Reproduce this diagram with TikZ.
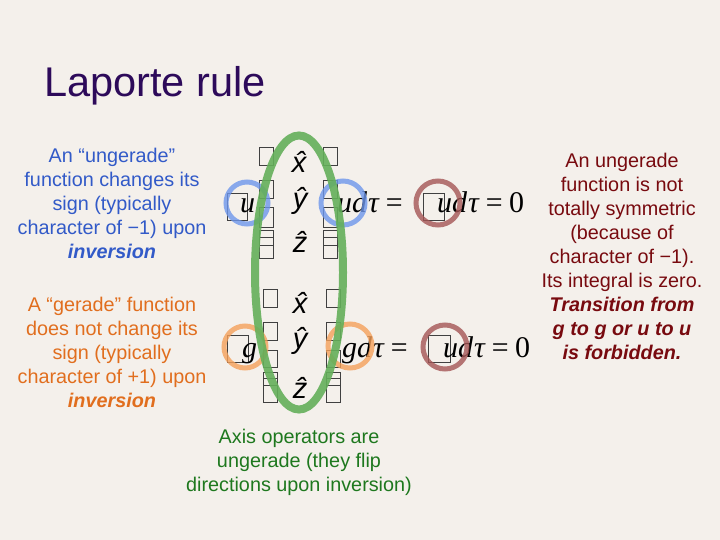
\documentclass[tikz,border=0pt]{standalone}
\usepackage{fontspec}
\setmainfont{Liberation Sans}
\newfontfamily\serifm{Liberation Serif}
\definecolor{bgc}{RGB}{244,240,235}
\definecolor{titlec}{RGB}{45,10,90}
\definecolor{bluet}{RGB}{50,90,200}
\definecolor{oranget}{RGB}{225,110,30}
\definecolor{redt}{RGB}{120,10,15}
\definecolor{greent}{RGB}{30,120,30}
\definecolor{bluec}{RGB}{110,150,235}
\definecolor{orangec}{RGB}{245,160,90}
\definecolor{redc}{RGB}{165,85,85}
\definecolor{greenc}{RGB}{100,175,90}
\begin{document}
\begin{tikzpicture}[x=1pt,y=-1pt,
  para/.style={anchor=north, align=center, inner sep=0pt, font=\fontsize{19.8}{24}\selectfont},
  mth/.style={anchor=base west, inner sep=0pt, font=\serifm\itshape\fontsize{30}{32}\selectfont},
  axis/.style={anchor=base, inner sep=0pt, font=\itshape\fontsize{29}{32}\selectfont},
  gbox/.style={draw=black!75, line width=0.6pt},
  ring/.style={line width=5pt, draw opacity=0.8}]
\fill[bgc] (0,0) rectangle (720,540);
\useasboundingbox (0,0) rectangle (720,540);

\node[anchor=base west, inner sep=0pt, text=titlec, font=\fontsize{41.5}{44}\selectfont] (title) at (44,97) {Laporte rule};

\node[para, text=bluet] (ungtext) at (112,148) {An “ungerade”\\function changes its\\sign (typically\\character of −1) upon\\\textbf{\textit{inversion}}};
\node[para, text=oranget] (gertext) at (112,297) {A “gerade” function\\does not change its\\sign (typically\\character of +1) upon\\\textbf{\textit{inversion}}};
\node[para, text=redt] (righttext) at (622,153) {An ungerade\\function is not\\totally symmetric\\(because of\\character of −1).\\Its integral is zero.\\\textbf{\textit{Transition from}}\\\textbf{\textit{g to g or u to u}}\\\textbf{\textit{is forbidden.}}};
\node[para, text=greent] (axistext) at (299,429) {Axis operators are\\ungerade (they flip\\directions upon inversion)};

% glyph boxes, upper row
\foreach \xa/\xb in {259/273, 323/337}{
  \draw[gbox] (\xa,147) rectangle (\xb,165);
  \draw[gbox] (\xa,180) rectangle (\xb,198);
  \draw[gbox] (\xa,207) rectangle (\xb,227);
  \draw[gbox] (\xa,230) rectangle (\xb,245);
  \draw[gbox] (\xa,237) rectangle (\xb,258);
}
\draw[gbox] (227,193) rectangle (247,220);
\draw[gbox] (423,193) rectangle (444,220);
% glyph boxes, lower row
\foreach \xa/\xb in {263/277, 326/340}{
  \draw[gbox] (\xa,289) rectangle (\xb,307);
  \draw[gbox] (\xa,322) rectangle (\xb,340);
  \draw[gbox] (\xa,350) rectangle (\xb,367);
  \draw[gbox] (\xa,372) rectangle (\xb,385);
  \draw[gbox] (\xa,378) rectangle (\xb,402);
}
\draw[gbox] (227,335) rectangle (248,362);
\draw[gbox] (428,335) rectangle (450,362);

% axis operators
\node[axis] (x1) at (299,173) {\^{x}};
\node[axis] (y1) at (300,208) {\^{y}};
\node[axis] (z1) at (300,252) {\^{z}};
\node[axis] (x2) at (300,313) {\^{x}};
\node[axis] (y2) at (300,348) {\^{y}};
\node[axis] (z2) at (300,398) {\^{z}};

% math
\node[mth] (u1) at (240,212) {u};
\node[mth] (ueq) at (337,212) {ud\kern1ptτ\,=};
\node[mth] (ueq0) at (437,212) {ud\kern1ptτ\,=\,\upshape 0};
\node[mth] (g1) at (242,357) {g};
\node[mth] (geq) at (342,357) {gd\kern1ptτ\,=};
\node[mth] (geq0) at (443,357) {ud\kern1ptτ\,=\,\upshape 0};

% rings
\draw[ring, bluec] (247,203) circle (21);
\draw[ring, bluec] (343,203) circle (22);
\draw[ring, redc] (438,203) circle (22);
\draw[ring, orangec] (245,347) circle (21);
\draw[ring, orangec] (350,346) circle (22);
\draw[ring, redc] (445,347) circle (22);

% green ellipse
\draw[line width=8pt, greenc, draw opacity=0.9] (299,272.5) ellipse [x radius=44, y radius=137];
\end{tikzpicture}
\end{document}
